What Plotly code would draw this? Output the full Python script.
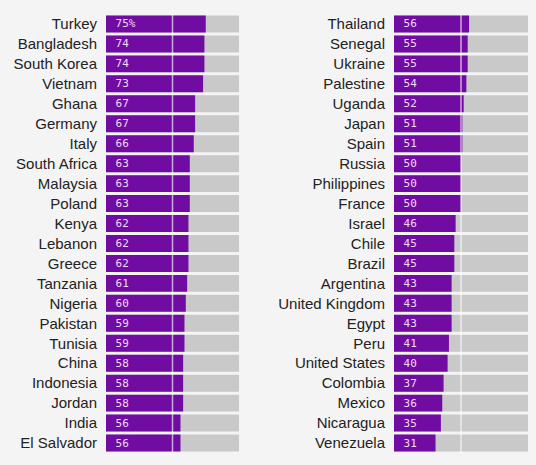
import plotly.graph_objects as go
from plotly.subplots import make_subplots

left_countries = ["Turkey", "Bangladesh", "South Korea", "Vietnam", "Ghana", "Germany", "Italy",
                  "South Africa", "Malaysia", "Poland", "Kenya", "Lebanon", "Greece", "Tanzania",
                  "Nigeria", "Pakistan", "Tunisia", "China", "Indonesia", "Jordan", "India", "El Salvador"]
left_values = [75, 74, 74, 73, 67, 67, 66, 63, 63, 63, 62, 62, 62, 61, 60, 59, 59, 58, 58, 58, 56, 56]

right_countries = ["Thailand", "Senegal", "Ukraine", "Palestine", "Uganda", "Japan", "Spain", "Russia",
                   "Philippines", "France", "Israel", "Chile", "Brazil", "Argentina", "United Kingdom",
                   "Egypt", "Peru", "United States", "Colombia", "Mexico", "Nicaragua", "Venezuela"]
right_values = [56, 55, 55, 54, 52, 51, 51, 50, 50, 50, 46, 45, 45, 43, 43, 43, 41, 40, 37, 36, 35, 31]

full_scale = 100
midline = 50

PURPLE = "#710ca3"
GRAY = "#c9c9c9"
BG = "#f4f4f4"

fig = make_subplots(rows=1, cols=2)

panels = [(left_countries, left_values, 1), (right_countries, right_values, 2)]
for countries, values, col in panels:
    ys = list(range(len(countries)))
    labels = ["\u2009" + (f"{v}%" if i == 0 and col == 1 else str(v)) for i, v in enumerate(values)]
    fig.add_trace(go.Bar(x=[full_scale] * len(ys), y=ys, orientation="h", marker=dict(color=GRAY, line=dict(width=0)),
                         width=0.85, hoverinfo="skip", showlegend=False), row=1, col=col)
    fig.add_trace(go.Bar(x=values, y=ys, orientation="h", marker=dict(color=PURPLE, line=dict(width=0)),
                         width=0.85, text=labels, textposition="inside", insidetextanchor="start",
                         constraintext="none",
                         textfont=dict(family="DejaVu Sans Mono", size=11, color="#f3dcf7"),
                         showlegend=False), row=1, col=col)
    fig.update_yaxes(tickmode="array", tickvals=ys, ticktext=countries, range=[len(ys) - 0.5, -0.5],
                     showgrid=False, zeroline=False, showline=False, ticks="", ticklabelstandoff=8,
                     tickfont=dict(family="Liberation Sans", size=15, color="#222222"), row=1, col=col)
    fig.update_xaxes(range=[0, full_scale], visible=False, showgrid=False, zeroline=False, row=1, col=col)

fig.update_layout(
    barmode="overlay",
    width=536, height=465,
    margin=dict(l=0, r=0, t=0, b=0),
    paper_bgcolor=BG, plot_bgcolor=BG,
    xaxis=dict(domain=[106 / 536, 239 / 536]),
    xaxis2=dict(domain=[394 / 536, 528 / 536]),
    yaxis=dict(domain=[1 - 453 / 465, 1 - 14 / 465]),
    yaxis2=dict(domain=[1 - 453 / 465, 1 - 14 / 465]),
)

for xref, yref in [("x", "y domain"), ("x2", "y2 domain")]:
    fig.add_shape(type="line", xref=xref, yref=yref, x0=midline, x1=midline, y0=0, y1=1,
                  line=dict(color="rgba(255,255,255,0.65)", width=1.5), layer="above")

fig.write_html("out.html")
